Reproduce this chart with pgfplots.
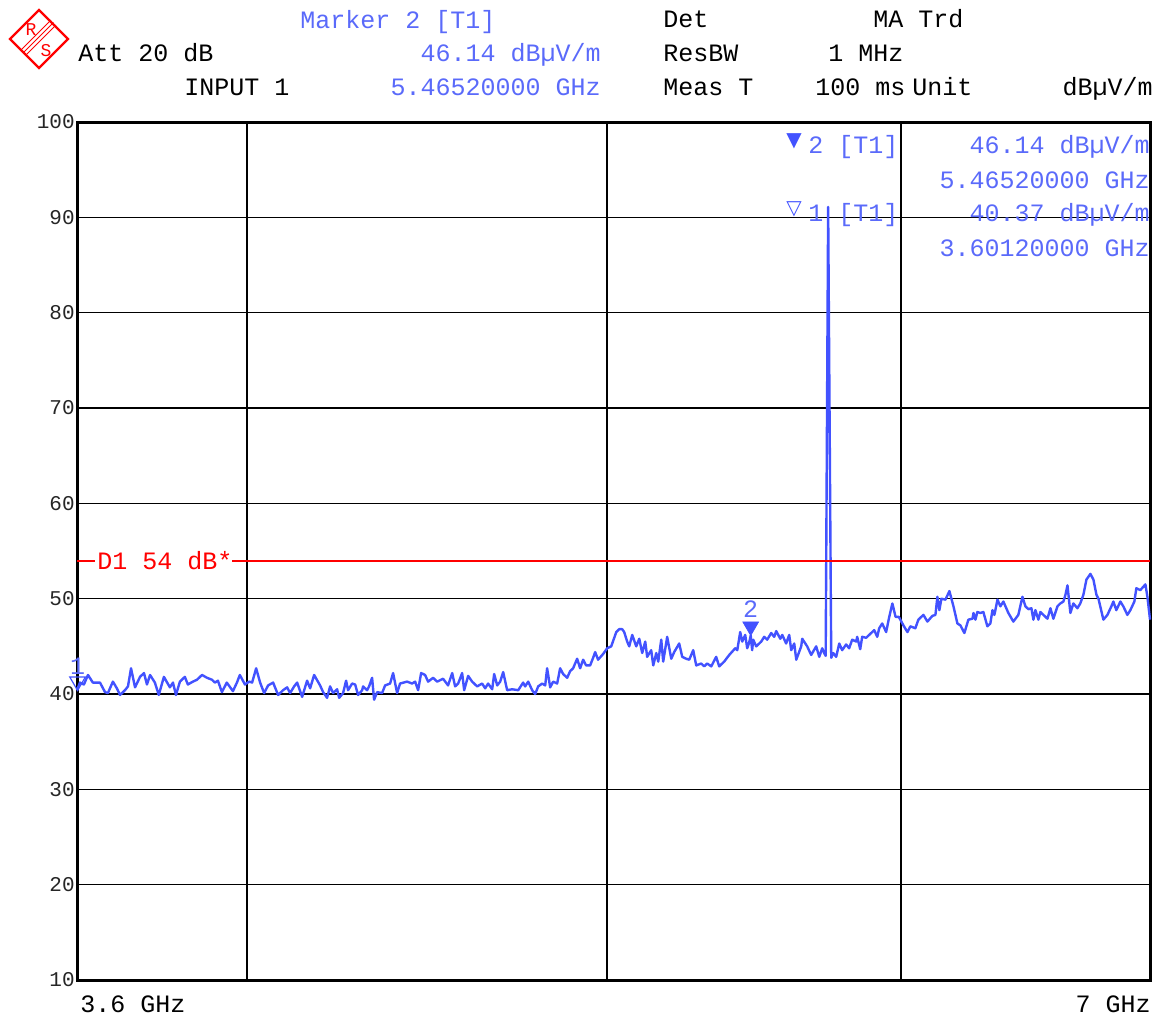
\documentclass[border=0pt]{standalone}
\usepackage{pgfplots}
\pgfplotsset{compat=1.18}
\usepackage{pgfplotstable}
\usepackage{fontspec}
\setmainfont{Liberation Mono}
\newfontfamily\symfont{DejaVu Sans}
\definecolor{rsblue}{RGB}{90,106,250}
\definecolor{tracec}{RGB}{66,82,255}
\definecolor{rsred}{RGB}{255,0,0}
\newcommand{\hf}{\fontsize{12.5}{14}\selectfont}

\pgfplotstableread{
f v
3.6000 40.4
3.6067 41.2
3.6157 41.0
3.6247 42.0
3.6359 41.2
3.6517 41.2
3.6631 40.2
3.6699 40.1
3.6813 41.3
3.6904 40.6
3.6973 39.9
3.7088 40.4
3.7157 40.8
3.7226 42.7
3.7318 40.7
3.7434 41.8
3.7527 42.2
3.7597 41.0
3.7667 42.0
3.7783 41.2
3.7877 39.9
3.7995 41.8
3.8137 40.7
3.8208 41.2
3.8279 39.9
3.8374 41.3
3.8493 41.8
3.8565 41.0
3.8684 41.3
3.8780 41.5
3.8901 42.0
3.9022 41.7
3.9143 41.5
3.9216 41.2
3.9289 41.4
3.9387 40.2
3.9509 41.2
3.9656 40.3
3.9754 41.2
3.9828 42.0
3.9951 41.0
4.0050 41.3
4.0125 41.2
4.0225 42.7
4.0325 41.2
4.0425 40.1
4.0524 40.9
4.0650 41.2
4.0776 39.9
4.0902 40.4
4.1004 40.7
4.1081 40.1
4.1183 40.8
4.1260 41.2
4.1388 39.7
4.1515 41.4
4.1593 40.6
4.1697 42.0
4.1852 40.9
4.1930 40.2
4.2033 39.6
4.2112 40.8
4.2190 40.1
4.2295 40.5
4.2347 39.6
4.2452 40.1
4.2531 41.4
4.2584 40.4
4.2690 41.1
4.2770 41.0
4.2849 39.9
4.2956 40.4
4.2982 40.8
4.3088 40.4
4.3142 40.8
4.3222 41.7
4.3276 39.4
4.3357 40.2
4.3491 40.1
4.3571 40.9
4.3707 41.1
4.3788 42.2
4.3897 40.1
4.3978 41.1
4.4169 41.3
4.4307 41.1
4.4390 41.3
4.4472 40.4
4.4555 42.2
4.4665 42.0
4.4748 41.3
4.4887 41.7
4.4999 41.3
4.5166 41.6
4.5306 40.9
4.5420 42.2
4.5504 40.8
4.5589 41.1
4.5702 42.2
4.5759 40.4
4.5872 41.9
4.5986 41.3
4.6129 40.8
4.6272 41.1
4.6358 40.6
4.6444 41.1
4.6560 40.5
4.6618 42.1
4.6705 40.9
4.6792 41.3
4.6879 42.3
4.6994 40.4
4.7141 40.5
4.7317 40.4
4.7463 41.2
4.7522 40.8
4.7610 41.3
4.7728 40.4
4.7818 40.0
4.7907 40.8
4.8026 41.1
4.8115 40.9
4.8173 42.7
4.8263 40.7
4.8353 41.3
4.8473 41.1
4.8563 42.7
4.8653 42.1
4.8774 41.7
4.8865 42.4
4.8956 42.7
4.9078 43.7
4.9169 42.7
4.9260 43.6
4.9352 43.0
4.9474 43.0
4.9567 43.8
4.9628 44.4
4.9720 43.6
4.9874 44.2
5.0000 44.8
5.0125 45.0
5.0281 46.5
5.0374 46.8
5.0468 46.8
5.0530 46.5
5.0624 45.5
5.0687 45.0
5.0782 46.2
5.0908 45.0
5.1003 45.8
5.1097 44.3
5.1192 45.5
5.1255 43.9
5.1383 44.6
5.1447 43.0
5.1543 44.3
5.1607 43.4
5.1703 45.7
5.1767 43.4
5.1894 46.0
5.2024 43.7
5.2121 44.4
5.2282 45.3
5.2379 43.9
5.2509 43.7
5.2607 43.6
5.2738 44.6
5.2836 43.0
5.3000 43.2
5.3098 42.9
5.3196 43.2
5.3329 42.9
5.3495 43.9
5.3594 42.9
5.3760 43.4
5.3927 44.1
5.4129 44.8
5.4196 44.6
5.4297 46.5
5.4364 45.5
5.4465 46.2
5.4532 44.8
5.4600 45.4
5.4652 46.14
5.4702 44.6
5.4736 45.7
5.4838 45.0
5.5008 45.5
5.5110 46.0
5.5212 45.7
5.5350 46.4
5.5454 46.0
5.5523 46.6
5.5661 45.8
5.5730 46.2
5.5866 45.3
5.5971 46.2
5.6041 44.6
5.6146 45.3
5.6215 43.6
5.6389 45.0
5.6424 45.8
5.6598 45.0
5.6739 44.1
5.6916 45.0
5.7022 43.9
5.7128 44.8
5.7198 44.3
5.7251 44.0
5.7340 91.1
5.7447 43.8
5.7518 44.3
5.7625 43.9
5.7732 45.3
5.7839 44.6
5.7982 45.2
5.8090 44.8
5.8199 45.7
5.8344 45.5
5.8380 46.0
5.8489 44.7
5.8561 46.0
5.8706 45.9
5.8815 46.2
5.8925 46.5
5.8998 46.7
5.9108 46.0
5.9181 46.9
5.9291 47.4
5.9437 46.5
5.9552 48.1
5.9669 49.5
5.9786 48.1
5.9903 48.1
6.0075 47.2
6.0225 46.5
6.0338 47.1
6.0525 46.9
6.0638 47.8
6.0825 48.3
6.0976 47.6
6.1166 48.2
6.1279 48.3
6.1355 50.2
6.1431 48.8
6.1507 50.0
6.1661 49.9
6.1814 50.8
6.1968 49.2
6.2121 47.4
6.2236 47.2
6.2390 46.4
6.2545 47.8
6.2701 47.9
6.2740 48.5
6.2817 47.8
6.2895 48.6
6.3011 48.5
6.3129 48.6
6.3286 47.1
6.3404 47.4
6.3483 48.8
6.3562 48.3
6.3680 49.9
6.3798 49.2
6.3917 49.7
6.4116 48.5
6.4315 47.6
6.4514 48.3
6.4673 50.2
6.4794 49.2
6.4915 48.9
6.5036 49.0
6.5116 47.8
6.5197 48.8
6.5318 47.8
6.5399 48.6
6.5521 48.3
6.5684 47.9
6.5806 49.0
6.5929 47.9
6.6092 49.2
6.6214 49.5
6.6338 49.7
6.6420 50.4
6.6503 51.4
6.6627 48.5
6.6751 49.5
6.6916 49.0
6.7040 49.5
6.7165 50.4
6.7291 52.0
6.7458 52.6
6.7584 52.0
6.7710 50.4
6.7793 50.0
6.8003 47.8
6.8172 48.3
6.8342 49.2
6.8427 49.7
6.8554 48.8
6.8723 49.7
6.8851 49.2
6.9022 48.3
6.9151 48.8
6.9323 49.7
6.9409 51.1
6.9580 50.9
6.9796 51.5
6.9882 50.2
7.0000 47.8
}\tracedata

\begin{document}
\begin{tikzpicture}
\begin{scope}[x=0.5pt,y=-0.5pt]
\path[use as bounding box] (0,0) rectangle (1157,1014);
% logo
\draw[rsred, line width=1.2pt] (39,10) -- (68,39) -- (39,68) -- (10,39) -- cycle;
\draw[rsred, line width=0.5pt] (21,50) -- (51,20);
\draw[rsred, line width=0.5pt] (23.5,52.5) -- (53.5,22.5);
\draw[rsred, line width=0.5pt] (26,55) -- (56,25);
\node[font=\fontsize{9}{9}\selectfont, text=rsred, inner sep=0pt] at (31,30) {R};
\node[font=\fontsize{9}{9}\selectfont, text=rsred, inner sep=0pt] at (46,51) {S};
% header
\node[anchor=base west, inner sep=0pt, font=\hf, text=rsblue] at (300,28) {Marker 2 [T1]};
\node[anchor=base west, inner sep=0pt, font=\hf] at (78,61) {Att 20 dB};
\node[anchor=base west, inner sep=0pt, font=\hf] at (184,95) {INPUT 1};
\node[anchor=base east, inner sep=0pt, font=\hf, text=rsblue] at (601,61) {46.14 dBµV/m};
\node[anchor=base east, inner sep=0pt, font=\hf, text=rsblue] at (601,95) {5.46520000 GHz};
\node[anchor=base west, inner sep=0pt, font=\hf] at (663,27) {Det};
\node[anchor=base west, inner sep=0pt, font=\hf] at (873,27) {MA Trd};
\node[anchor=base west, inner sep=0pt, font=\hf] at (663,61) {ResBW};
\node[anchor=base west, inner sep=0pt, font=\hf] at (828,61) {1 MHz};
\node[anchor=base west, inner sep=0pt, font=\hf] at (663,95) {Meas T};
\node[anchor=base west, inner sep=0pt, font=\hf] at (815,95) {100 ms};
\node[anchor=base west, inner sep=0pt, font=\hf] at (912,95) {Unit};
\node[anchor=base east, inner sep=0pt, font=\hf] at (1153,95) {dBµV/m};
% footer
\node[anchor=base west, inner sep=0pt, font=\hf] at (80,1012) {3.6 GHz};
\node[anchor=base east, inner sep=0pt, font=\hf] at (1151,1012) {7 GHz};
\end{scope}
\begin{axis}[at={(38.5pt,-490pt)}, anchor=south west, scale only axis,
  width=536.5pt, height=429pt,
  xmode=log, xmin=3.6, xmax=7, ymin=10, ymax=100,
  xtick={4,5,6}, xticklabels={},
  ytick={10,20,30,40,50,60,70,80,90,100},
  /pgf/number format/assume math mode=true,
  yticklabel style={font=\fontsize{10.5}{12}\selectfont, inner sep=1pt, text=black!85},
  major tick length=0pt,
  grid=major,
  major x grid style={black, line width=1pt},
  major y grid style={black, line width=0.8pt},
  axis line style={black, line width=1.5pt},
  clip=false]
\addplot[tracec, line width=1.2pt, line join=round] table[x=f, y=v] {\tracedata};
% display line D1
\addplot[rsred, line width=1pt] coordinates {(3.6,54) (3.6404,54)};
\addplot[rsred, line width=1pt] coordinates {(3.9632,54) (7,54)};
\node[anchor=center, inner sep=0pt, font=\hf, text=rsred] at (axis cs:3.8018,54) {D1 54 dB*};
% markers
\addplot[only marks, mark=triangle*, mark size=4.5pt, mark options={yshift=4.5pt, rotate=180, fill=tracec, draw=tracec}] coordinates {(5.4652,46.14)};
\addplot[only marks, mark=triangle, mark size=4.5pt, mark options={yshift=4.5pt, rotate=180, draw=tracec, fill=white, line width=0.6pt}] coordinates {(3.6012,40.37)};
\node[anchor=south, inner sep=0pt, font=\hf, text=rsblue] at (axis cs:5.4652,48.0) {2};
\node[anchor=south, inner sep=0pt, font=\hf, text=rsblue] at (axis cs:3.6012,42.0) {1};
\end{axis}
\begin{scope}[x=0.5pt,y=-0.5pt]
% marker info block inside the diagram
\node[anchor=base west, inner sep=0pt, font=\symfont\fontsize{10}{10}\selectfont, text=tracec] at (786,146) {▼};
\node[anchor=base west, inner sep=0pt, font=\hf, text=rsblue] at (808,153) {2 [T1]};
\node[anchor=base east, inner sep=0pt, font=\hf, text=rsblue] at (1150,153) {46.14 dBµV/m};
\node[anchor=base east, inner sep=0pt, font=\hf, text=rsblue] at (1150,188) {5.46520000 GHz};
\node[anchor=base west, inner sep=0pt, font=\symfont\fontsize{10}{10}\selectfont, text=tracec] at (786,214) {▽};
\node[anchor=base west, inner sep=0pt, font=\hf, text=rsblue] at (808,221) {1 [T1]};
\node[anchor=base east, inner sep=0pt, font=\hf, text=rsblue] at (1150,221) {40.37 dBµV/m};
\node[anchor=base east, inner sep=0pt, font=\hf, text=rsblue] at (1150,256) {3.60120000 GHz};
\end{scope}
\end{tikzpicture}
\end{document}
